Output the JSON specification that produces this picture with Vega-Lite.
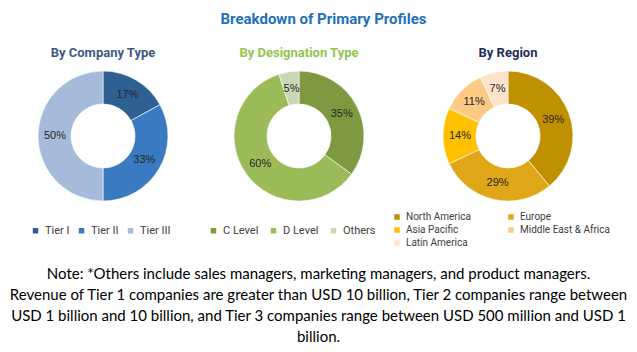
{
  "$schema": "https://vega.github.io/schema/vega-lite/v6.json",
  "padding": {"left": 0, "right": 0, "top": 11, "bottom": 0},
  "background": "white",
  "title": {"text": "Breakdown of Primary Profiles", "font": "Roboto", "fontSize": 15, "fontWeight": "bold", "color": "#1F70B8", "anchor": "middle", "offset": 20, "dx": 5},
  "datasets": {
    "company": [
      {"type": "Tier I", "share": 0.17, "order": 1},
      {"type": "Tier II", "share": 0.33, "order": 2},
      {"type": "Tier III", "share": 0.50, "order": 3}
    ],
    "designation": [
      {"level": "C Level", "share": 0.35, "order": 1},
      {"level": "D Level", "share": 0.60, "order": 2},
      {"level": "Others", "share": 0.05, "order": 3}
    ],
    "region": [
      {"region": "North America", "share": 0.39, "order": 1},
      {"region": "Europe", "share": 0.29, "order": 2},
      {"region": "Asia Pacific", "share": 0.14, "order": 3},
      {"region": "Middle East & Africa", "share": 0.11, "order": 4},
      {"region": "Latin America", "share": 0.07, "order": 5}
    ],
    "note": [
      {"text": "Note: *Others include sales managers, marketing managers, and product managers.\nRevenue of Tier 1 companies are greater than USD 10 billion, Tier 2 companies range between\nUSD 1 billion and 10 billion, and Tier 3 companies range between USD 500 million and USD 1\nbillion."}
    ]
  },
  "vconcat": [
    {
      "spacing": 0,
      "resolve": {"scale": {"color": "independent", "theta": "independent"}, "legend": {"color": "independent"}},
      "hconcat": [
        {
          "width": 206, "height": 130,
          "title": {"text": "By Company Type", "color": "#3E5A84", "font": "Roboto", "fontSize": 13, "fontWeight": "bold", "offset": 10},
          "data": {"name": "company"},
          "encoding": {
            "theta": {"field": "share", "type": "quantitative", "stack": true},
            "order": {"field": "order", "type": "quantitative"}
          },
          "layer": [
            {
              "mark": {"type": "arc", "outerRadius": 65, "innerRadius": 32, "stroke": "white", "strokeWidth": 0.6},
              "encoding": {
                "color": {
                  "field": "type", "type": "nominal",
                  "scale": {"domain": ["Tier I", "Tier II", "Tier III"], "range": ["#2E6094", "#3A7AC0", "#A6BAD9"]},
                  "legend": {"title": null, "orient": "none", "legendX": 30, "legendY": 154, "direction": "horizontal", "symbolType": "square", "symbolSize": 30, "symbolStrokeWidth": 0, "labelFont": "Roboto", "labelFontSize": 11, "labelColor": "#404040", "columnPadding": 6, "labelOffset": 4}
                }
              }
            },
            {
              "mark": {"type": "text", "radius": 48, "font": "Liberation Sans", "fontSize": 11, "color": "#262626"},
              "encoding": {"text": {"field": "share", "type": "quantitative", "format": ".0%"}, "detail": {"field": "type"}}
            }
          ]
        },
        {
          "width": 186, "height": 130,
          "title": {"text": "By Designation Type", "color": "#92C550", "font": "Roboto", "fontSize": 13, "fontWeight": "bold", "offset": 10},
          "data": {"name": "designation"},
          "encoding": {
            "theta": {"field": "share", "type": "quantitative", "stack": true},
            "order": {"field": "order", "type": "quantitative"}
          },
          "layer": [
            {
              "mark": {"type": "arc", "outerRadius": 65, "innerRadius": 32, "stroke": "white", "strokeWidth": 0.6},
              "encoding": {
                "color": {
                  "field": "level", "type": "nominal",
                  "scale": {"domain": ["C Level", "D Level", "Others"], "range": ["#7E9A41", "#9BBB59", "#C9D8B2"]},
                  "legend": {"title": null, "orient": "none", "legendX": 2, "legendY": 154, "direction": "horizontal", "symbolType": "square", "symbolSize": 30, "symbolStrokeWidth": 0, "labelFont": "Roboto", "labelFontSize": 11, "labelColor": "#404040", "columnPadding": 9, "labelOffset": 4}
                }
              }
            },
            {
              "mark": {"type": "text", "radius": 48, "font": "Liberation Sans", "fontSize": 11, "color": "#262626"},
              "encoding": {"text": {"field": "share", "type": "quantitative", "format": ".0%"}, "detail": {"field": "level"}}
            }
          ]
        },
        {
          "width": 232, "height": 130,
          "title": {"text": "By Region", "color": "#1F2D5A", "font": "Roboto", "fontSize": 13, "fontWeight": "bold", "offset": 10},
          "data": {"name": "region"},
          "encoding": {
            "theta": {"field": "share", "type": "quantitative", "stack": true},
            "order": {"field": "order", "type": "quantitative"}
          },
          "layer": [
            {
              "mark": {"type": "arc", "outerRadius": 65, "innerRadius": 32, "stroke": "white", "strokeWidth": 0.6},
              "encoding": {
                "color": {
                  "field": "region", "type": "nominal",
                  "scale": {"domain": ["North America", "Europe", "Asia Pacific", "Middle East & Africa", "Latin America"], "range": ["#BF9000", "#DFA617", "#FFC000", "#FBCB85", "#FCE3C9"]},
                  "legend": {"title": null, "orient": "none", "legendX": 0, "legendY": 141, "direction": "horizontal", "columns": 2, "symbolType": "square", "symbolSize": 30, "symbolStrokeWidth": 0, "labelFont": "Roboto", "labelFontSize": 10, "labelColor": "#404040", "columnPadding": 35, "rowPadding": 3, "labelOffset": 4}
                }
              }
            },
            {
              "mark": {"type": "text", "radius": 48, "font": "Liberation Sans", "fontSize": 11, "color": "#262626"},
              "encoding": {"text": {"field": "share", "type": "quantitative", "format": ".0%"}, "detail": {"field": "region"}}
            }
          ]
        }
      ]
    },
    {
      "width": 637, "height": 31,
      "data": {"name": "note"},
      "mark": {"type": "text", "lineBreak": "\n", "lineHeight": 21, "font": "Lato", "fontSize": 15, "color": "#000000", "align": "center", "baseline": "middle"},
      "encoding": {"text": {"field": "text", "type": "nominal"}}
    }
  ],
  "spacing": 10,
  "config": {"view": {"stroke": null}}
}
